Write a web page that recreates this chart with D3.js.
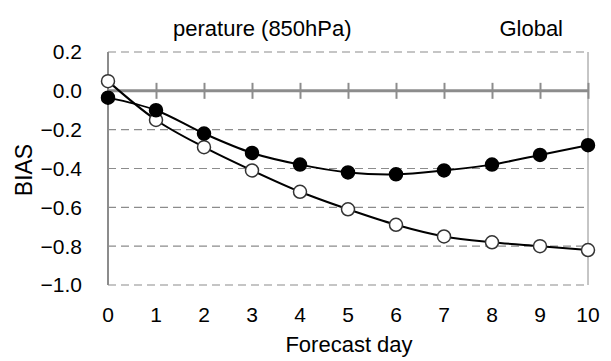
<!DOCTYPE html>
<html>
<head>
<meta charset="utf-8">
<script src="https://cdn.jsdelivr.net/npm/d3@7"></script>
<style>
  body { margin: 0; background: #fff; }
  text { font-family: "Liberation Sans", Arial, sans-serif; fill: #000; }
</style>
</head>
<body>
<svg id="chart" width="611" height="361"></svg>
<script>
// forecast days and BIAS values
var days = [0, 1, 2, 3, 4, 5, 6, 7, 8, 9, 10];
var biasFilled = [-0.035, -0.10, -0.22, -0.32, -0.38, -0.42, -0.43, -0.41, -0.38, -0.33, -0.28];
var biasOpen = [0.05, -0.15, -0.29, -0.41, -0.52, -0.61, -0.69, -0.75, -0.78, -0.80, -0.82];
var yTicks = [0.2, 0.0, -0.2, -0.4, -0.6, -0.8, -1.0];
var titleText = "perature (850hPa)";
var regionText = "Global";

var svg = d3.select("#chart");

var x = d3.scaleLinear().domain([0, 10]).range([108, 588]);
var y = d3.scaleLinear().domain([-1.0, 0.2]).range([285, 52]);

// dashed gridlines (incl. top and bottom frame)
svg.append("g").selectAll("line")
    .data(yTicks.filter(function (d) { return d !== 0; }))
    .enter().append("line")
    .attr("x1", x(0)).attr("x2", x(10))
    .attr("y1", function (d) { return y(d); })
    .attr("y2", function (d) { return y(d); })
    .attr("stroke", "#8c8c8c")
    .attr("stroke-width", 1.2)
    .attr("stroke-dasharray", "8,5");

// right frame
svg.append("line")
    .attr("x1", x(10)).attr("x2", x(10))
    .attr("y1", y(0.2)).attr("y2", y(-1.0))
    .attr("stroke", "#8c8c8c").attr("stroke-width", 1);

// left axis
svg.append("line")
    .attr("x1", x(0)).attr("x2", x(0))
    .attr("y1", y(0.2)).attr("y2", y(-1.0))
    .attr("stroke", "#8c8c8c").attr("stroke-width", 2);

// zero line with crossing ticks
var xAxis = d3.axisBottom(x)
    .tickValues(days.slice(1))
    .tickSizeInner(16)
    .tickSizeOuter(0)
    .tickFormat("");
var zeroAxis = svg.append("g")
    .attr("transform", "translate(0," + (y(0) - 8) + ")")
    .call(xAxis);
zeroAxis.select(".domain").remove();
zeroAxis.selectAll(".tick line").attr("stroke", "#8c8c8c").attr("stroke-width", 2);
svg.append("line")
    .attr("x1", x(0)).attr("x2", x(10))
    .attr("y1", y(0)).attr("y2", y(0))
    .attr("stroke", "#8c8c8c").attr("stroke-width", 3);

// y tick labels
svg.append("g").selectAll("text")
    .data(yTicks)
    .enter().append("text")
    .attr("x", 82)
    .attr("y", function (d) { return y(d); })
    .attr("dy", "0.35em")
    .attr("text-anchor", "end")
    .style("font-size", "21px")
    .text(function (d) { return d3.format(".1f")(d); });

// x tick labels
svg.append("g").selectAll("text")
    .data(days)
    .enter().append("text")
    .attr("x", function (d) { return x(d); })
    .attr("y", 322)
    .attr("text-anchor", "middle")
    .style("font-size", "21px")
    .text(function (d) { return d; });

svg.append("text")
    .attr("x", 349).attr("y", 352)
    .attr("text-anchor", "middle")
    .style("font-size", "22px")
    .text("Forecast day");

svg.append("text")
    .attr("transform", "translate(32,170) rotate(-90)")
    .attr("text-anchor", "middle")
    .style("font-size", "23px")
    .text("BIAS");

svg.append("text")
    .attr("x", 173).attr("y", 36)
    .style("font-size", "22px")
    .text(titleText);

svg.append("text")
    .attr("x", 563).attr("y", 36)
    .attr("text-anchor", "end")
    .style("font-size", "22px")
    .text(regionText);

// series
var line = d3.line()
    .x(function (d) { return x(d[0]); })
    .y(function (d) { return y(d[1]); })
    .curve(d3.curveCatmullRom.alpha(0.5));

function drawSeries(vals, fill, stroke) {
    var pts = days.map(function (d, i) { return [d, vals[i]]; });
    svg.append("path")
        .datum(pts)
        .attr("d", line)
        .attr("fill", "none")
        .attr("stroke", "#000")
        .attr("stroke-width", 2);
    svg.append("g").selectAll("circle")
        .data(pts)
        .enter().append("circle")
        .attr("cx", function (d) { return x(d[0]); })
        .attr("cy", function (d) { return y(d[1]); })
        .attr("r", 6.5)
        .attr("fill", fill)
        .attr("stroke", stroke)
        .attr("stroke-width", 1.5);
}

drawSeries(biasOpen, "#fff", "#333");
drawSeries(biasFilled, "#000", "#000");
</script>
</body>
</html>
